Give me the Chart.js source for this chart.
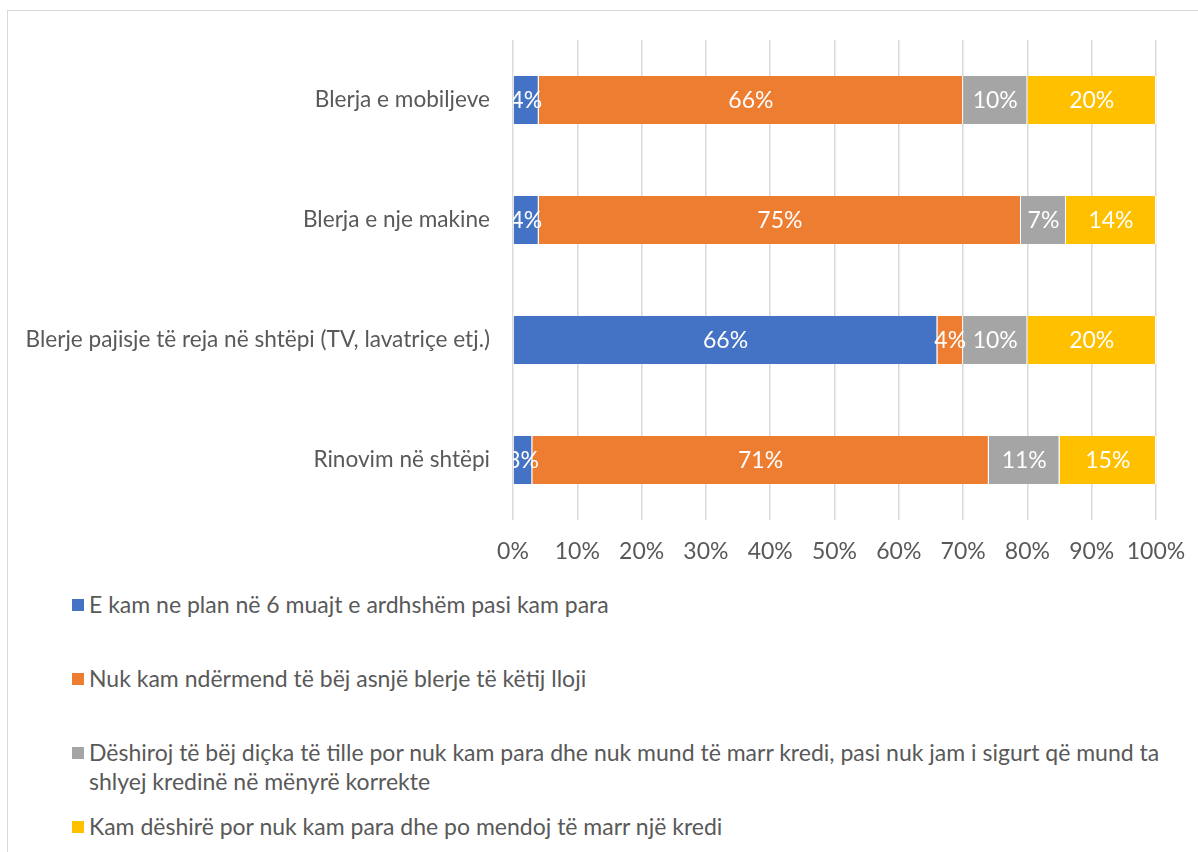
<!DOCTYPE html>
<html>
<head>
<meta charset="utf-8">
<script src="https://cdn.jsdelivr.net/npm/chart.js@4/dist/chart.umd.min.js"></script>
<style>
  html, body { margin: 0; padding: 0; background: #fff; }
  body { width: 1198px; height: 852px; position: relative; overflow: hidden; font-family: Lato, "Noto Sans", sans-serif; }
  #frame { position: absolute; left: 7px; top: 10px; width: 1200px; height: 860px;
           border-left: 1px solid #d9d9d9; border-top: 1px solid #d9d9d9; }
  #wrap { position: absolute; left: 0; top: 0; width: 1198px; height: 580px; }
  #legend { position: absolute; left: 72px; top: 590px; width: 1110px; }
  .item { display: flex; align-items: flex-start; height: 74px; color: #595959; font-size: 23px; line-height: 29px; }
  .swatch { width: 12px; height: 12px; flex: none; margin-top: 9px; margin-right: 5px; }
  .text { width: 1085px; }
</style>
</head>
<body>
<div id="frame"></div>
<div id="wrap"><canvas id="chart"></canvas></div>
<div id="legend"></div>
<script>
// Categories, top to bottom
const categories = [
  'Blerja e mobiljeve',
  'Blerja e nje makine',
  'Blerje pajisje të reja në shtëpi (TV, lavatriçe etj.)',
  'Rinovim në shtëpi'
];

// Answer options (series)
const seriesNames = [
  'E kam ne plan në 6 muajt e ardhshëm pasi kam para',
  'Nuk kam ndërmend të bëj asnjë blerje të këtij lloji',
  'Dëshiroj të bëj diçka të tille por nuk kam para dhe nuk mund të marr kredi, pasi nuk jam i sigurt që mund ta shlyej kredinë në mënyrë korrekte',
  'Kam dëshirë por nuk kam para dhe po mendoj të marr një kredi'
];
const seriesColors = ['#4472C4', '#ED7D31', '#A5A5A5', '#FFC000'];

// Shares (%) per category for each answer
const planned     = [4, 4, 66, 3];
const notPlanning = [66, 75, 4, 71];
const noCredit    = [10, 7, 10, 11];
const wantCredit  = [20, 14, 20, 15];
const seriesValues = [planned, notPlanning, noCredit, wantCredit];

// Percentage axis ticks
const tickValues = [0, 10, 20, 30, 40, 50, 60, 70, 80, 90, 100];

const FONT = 'Lato, "Noto Sans", sans-serif';
const TEXT = '#595959';
const SIZE = 23;

// White value labels centred in each segment
const valueLabels = {
  id: 'valueLabels',
  afterDatasetsDraw(chart) {
    const { ctx, chartArea } = chart;
    ctx.save();
    ctx.beginPath();
    ctx.rect(chartArea.left, chartArea.top, chartArea.right - chartArea.left, chartArea.bottom - chartArea.top);
    ctx.clip();
    ctx.font = SIZE + 'px ' + FONT;
    ctx.fillStyle = '#ffffff';
    ctx.textAlign = 'center';
    ctx.textBaseline = 'middle';
    chart.data.datasets.forEach((ds, i) => {
      const meta = chart.getDatasetMeta(i);
      meta.data.forEach((bar, j) => {
        const p = bar.getProps(['x', 'y', 'base'], true);
        ctx.fillText(ds.data[j] + '%', (p.x + p.base) / 2, p.y + 1);
      });
    });
    ctx.restore();
  }
};

new Chart(document.getElementById('chart'), {
  type: 'bar',
  data: {
    labels: categories,
    datasets: seriesNames.map((name, i) => ({
      label: name,
      data: seriesValues[i],
      backgroundColor: seriesColors[i],
      borderColor: '#ffffff',
      borderWidth: { top: 0, bottom: 0, left: 0, right: 1 },
      borderSkipped: false,
      barPercentage: 0.4,
      categoryPercentage: 1
    }))
  },
  options: {
    indexAxis: 'y',
    responsive: true,
    maintainAspectRatio: false,
    animation: false,
    layout: { padding: { top: 40, right: 42, bottom: 0, left: 0 } },
    plugins: {
      legend: { display: false },
      tooltip: { enabled: false }
    },
    scales: {
      x: {
        stacked: true,
        min: 0,
        max: 100,
        afterBuildTicks: s => { s.ticks = tickValues.map(v => ({ value: v })); },
        afterFit: s => { s.height = 60; s.paddingLeft = 0; s.paddingRight = 0; },
        grid: { color: '#d9d9d9', lineWidth: 1.5, drawTicks: false },
        border: { display: false },
        ticks: {
          padding: 18,
          color: TEXT,
          font: { family: FONT, size: SIZE },
          callback: v => v + '%',
          maxRotation: 0
        }
      },
      y: {
        stacked: true,
        afterFit: s => { s.width = 513; },
        grid: { display: false, drawTicks: false },
        border: { display: false },
        ticks: {
          padding: 23,
          color: TEXT,
          font: { family: FONT, size: 22.6 }
        }
      }
    }
  },
  plugins: [valueLabels]
});

// Legend listed below the chart
const legend = document.getElementById('legend');
seriesNames.forEach((name, i) => {
  const item = document.createElement('div');
  item.className = 'item';
  const sw = document.createElement('span');
  sw.className = 'swatch';
  sw.style.background = seriesColors[i];
  const tx = document.createElement('span');
  tx.className = 'text';
  tx.textContent = name;
  item.appendChild(sw);
  item.appendChild(tx);
  legend.appendChild(item);
});
</script>
</body>
</html>
